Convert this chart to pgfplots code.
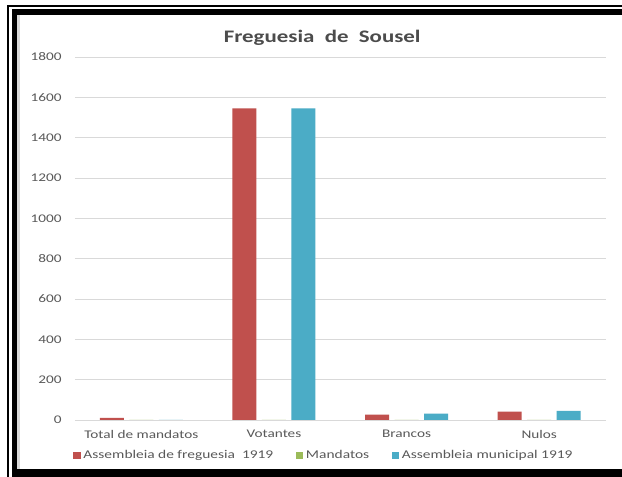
\documentclass[border=0pt]{standalone}
\usepackage{pgfplots}
\pgfplotsset{compat=1.18}
\usepackage{fontspec}
\setmainfont{Carlito}[FakeStretch=1.3]
\definecolor{cred}{HTML}{C0504D}
\definecolor{cgreen}{HTML}{9BBB59}
\definecolor{cblue}{HTML}{4BACC6}
\definecolor{tgray}{HTML}{595959}
\definecolor{ggray}{HTML}{D9D9D9}
\begin{document}
\begin{tikzpicture}
\fill[white] (0,0) rectangle (466.5pt,357.75pt);
\begin{scope}[x=0.75pt,y=0.75pt]
\fill[black] (7,0) rectangle (9,472);
\fill[black] (7,470) rectangle (622,472);
\fill[black] (12,0) rectangle (17,468);
\fill[black] (12,462) rectangle (622,468);
\fill[black] (12,0) rectangle (622,8);
\fill[black!15] (17,8) rectangle (20,462);
\end{scope}
\begin{axis}[
  at={(56.25pt,42.75pt)}, anchor=south west,
  scale only axis, width=397.9pt, height=272.25pt,
  ymin=0, ymax=1800, ytick={0,200,...,1800},
  xmin=-0.5, xmax=3.5, xtick={0,1,2,3},
  xticklabels={Total de mandatos,Votantes,Brancos,Nulos},
  ybar=4.1pt, bar width=18pt,
  ymajorgrids, grid style={draw=ggray, line width=0.6pt},
  axis line style={draw=none,-},
  major tick length=0pt,
  /pgf/number format/assume math mode=true,
  /pgf/number format/1000 sep={},
  tick label style={font=\fontsize{8.8}{10}\selectfont, text=tgray},
  yticklabel style={xshift=-6.5pt},
  xticklabel style={yshift=-4pt},
  title={Freguesia\ \ de\ \ Sousel},
  title style={at={(0.466,1)}, anchor=center, yshift=8.5pt, font=\fontsize{13.2}{15}\selectfont\bfseries, text=black!70},
  legend columns=3,
  legend style={draw=none, fill=none, at={(0.470,-0.0985)}, anchor=center,
    font=\fontsize{8.9}{10}\selectfont, text=tgray,
    /tikz/every even column/.append style={column sep=15pt}},
]
\addplot[fill=cred, draw=none, legend image code/.code={\fill[cred] (0pt,-2.6pt) rectangle (5.5pt,2.6pt);}]
  coordinates {(0,10) (1,1545) (2,26) (3,41)};
\addlegendentry{Assembleia de freguesia\ \ 1919}
\addplot[fill=cgreen, draw=none, legend image code/.code={\fill[cgreen] (0pt,-2.6pt) rectangle (5.5pt,2.6pt);}]
  coordinates {(0,0) (1,0) (2,0) (3,0)};
\addlegendentry{Mandatos}
\addplot[fill=cblue, draw=none, legend image code/.code={\fill[cblue] (0pt,-2.6pt) rectangle (5.5pt,2.6pt);}]
  coordinates {(0,0) (1,1545) (2,31) (3,45)};
\addlegendentry{Assembleia municipal 1919}
\end{axis}
\pgfresetboundingbox
\useasboundingbox (0,0) rectangle (466.5pt,357.75pt);
\end{tikzpicture}
\end{document}
